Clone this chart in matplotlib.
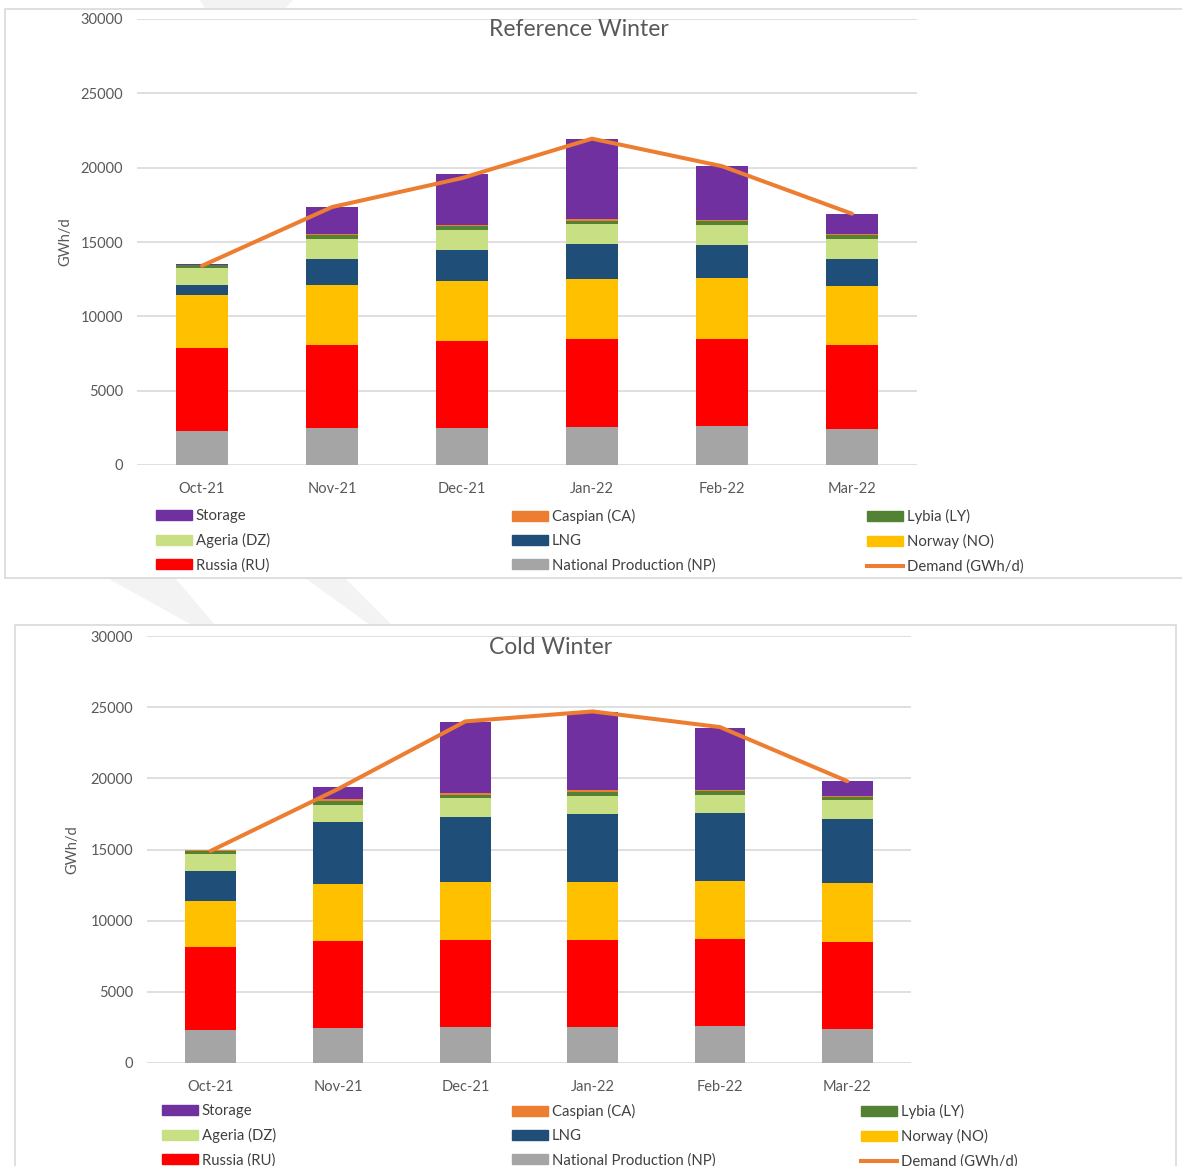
import numpy as np
import matplotlib
matplotlib.use('Agg')
import matplotlib.pyplot as plt
from matplotlib.patches import Rectangle, Polygon, Patch
from matplotlib.lines import Line2D

plt.rcParams['font.family'] = ['Lato', 'DejaVu Sans']

# months on the x axis
months = ['Oct-21', 'Nov-21', 'Dec-21', 'Jan-22', 'Feb-22', 'Mar-22']

# Reference winter (GWh/d)
np_ref = [2300, 2470, 2480, 2540, 2600, 2430]
ru_ref = [5600, 5600, 5880, 5930, 5870, 5640]
no_ref = [3550, 4050, 4020, 4040, 4110, 4000]
lng_ref = [650, 1770, 2090, 2380, 2250, 1820]
dz_ref = [1130, 1300, 1330, 1300, 1300, 1300]
ly_ref = [200, 270, 250, 250, 250, 250]
ca_ref = [20, 90, 110, 110, 90, 70]
st_ref = [80, 1780, 3440, 5390, 3640, 1390]
demand_ref = [13400, 17350, 19300, 21950, 20100, 16900]

# Cold winter (GWh/d)
np_cold = [2350, 2470, 2540, 2540, 2580, 2390]
ru_cold = [5820, 6080, 6080, 6080, 6100, 6080]
no_cold = [3240, 4010, 4090, 4130, 4130, 4160]
lng_cold = [2090, 4340, 4600, 4740, 4720, 4530]
dz_cold = [1200, 1240, 1310, 1290, 1290, 1310]
ly_cold = [210, 260, 240, 260, 260, 240]
ca_cold = [30, 120, 120, 120, 120, 70]
st_cold = [60, 870, 4950, 5490, 4340, 1030]
demand_cold = [14900, 19250, 24000, 24700, 23600, 19800]

series_names = ['National Production (NP)', 'Russia (RU)', 'Norway (NO)', 'LNG',
                'Ageria (DZ)', 'Lybia (LY)', 'Caspian (CA)', 'Storage']
colors = ['#A5A5A5', '#FF0000', '#FFC000', '#1F4E79',
          '#C9DF84', '#548235', '#ED7D31', '#7030A0']
demand_color = '#ED7D31'

W, H = 1182, 1166
fig = plt.figure(figsize=(W / 100, H / 100), dpi=100)


def fx(px):
    return px / W


def fy(py):
    return 1 - py / H


# faint watermark swooshes behind the panels
for pts in [[(200, 0), (293, 0), (285, 9), (205, 9)],
            [(107, 578), (175, 578), (215, 625), (192, 625)],
            [(305, 578), (345, 578), (392, 625), (370, 625)]]:
    fig.patches.append(Polygon([(fx(x), fy(y)) for x, y in pts], closed=True,
                               transform=fig.transFigure, facecolor='#F3F3F3',
                               edgecolor='none', zorder=0))

# panel borders
fig.patches.append(Rectangle((fx(5), fy(578)), fx(1190) - fx(5), fy(9) - fy(578),
                             transform=fig.transFigure, facecolor='white',
                             edgecolor='#D9D9D9', lw=1.2, zorder=0.5))
fig.patches.append(Rectangle((fx(15), fy(1175)), fx(1176) - fx(15), fy(625) - fy(1175),
                             transform=fig.transFigure, facecolor='white',
                             edgecolor='#D9D9D9', lw=1.2, zorder=0.5))


def draw_panel(box, series, demand, title, title_x, title_y, ylab_x, leg_x, leg_y):
    left, right, top, bottom = box
    ax = fig.add_axes([fx(left), fy(bottom), fx(right) - fx(left), fy(top) - fy(bottom)])
    ax.set_zorder(2)
    ax.set_facecolor('none')
    x = np.arange(len(months))
    base = np.zeros(len(months))
    for vals, c, name in zip(series, colors, series_names):
        ax.bar(x, vals, width=0.4, bottom=base, color=c, label=name, zorder=3)
        base = base + np.array(vals)
    ax.plot(x, demand, color=demand_color, lw=2.9, solid_capstyle='round', zorder=4)

    ax.set_xlim(-0.5, len(months) - 0.5)
    ax.set_ylim(0, 30000)
    ax.set_yticks(range(0, 30001, 5000))
    ax.set_xticks(x)
    ax.set_xticklabels(months)
    ax.grid(axis='y', color='#D9D9D9', lw=1.2, zorder=0)
    for s in ax.spines.values():
        s.set_visible(False)
    ax.tick_params(axis='both', length=0, colors='#595959', labelsize=10.5)
    ax.tick_params(axis='x', pad=12)
    ax.tick_params(axis='y', pad=10)

    fig.text(fx(title_x), fy(title_y), title, ha='center', va='center',
             fontsize=16.5, color='#595959', zorder=3)
    fig.text(fx(ylab_x), fy((top + bottom) / 2), 'GWh/d', rotation=90,
             ha='center', va='center', fontsize=10.5, color='#595959', zorder=3)

    # legend: three columns, filled row by row as in the original
    patches = [Patch(color=c) for c in colors]
    demand_handle = Line2D([0], [0], color=demand_color, lw=2.9)
    columns = [
        [(patches[7], 'Storage'), (patches[4], 'Ageria (DZ)'), (patches[1], 'Russia (RU)')],
        [(patches[6], 'Caspian (CA)'), (patches[3], 'LNG'), (patches[0], 'National Production (NP)')],
        [(patches[5], 'Lybia (LY)'), (patches[2], 'Norway (NO)'), (demand_handle, 'Demand (GWh/d)')],
    ]
    for cx, col in zip(leg_x, columns):
        leg = fig.legend([h for h, _ in col], [t for _, t in col], loc='upper left',
                         bbox_to_anchor=(fx(cx), fy(leg_y)), frameon=False,
                         fontsize=10.7, labelcolor='#404040', handlelength=2.4,
                         handleheight=0.65, handletextpad=0.28, labelspacing=0.68,
                         borderpad=0, borderaxespad=0)
        leg.set_zorder(3)
    return ax


draw_panel((137, 917, 19, 465),
           [np_ref, ru_ref, no_ref, lng_ref, dz_ref, ly_ref, ca_ref, st_ref],
           demand_ref, 'Reference Winter', 579, 29, 65, [156, 512, 867], 509)

draw_panel((147, 911, 636, 1063),
           [np_cold, ru_cold, no_cold, lng_cold, dz_cold, ly_cold, ca_cold, st_cold],
           demand_cold, 'Cold Winter', 551, 647, 72, [162, 512, 861], 1104)

fig.savefig('out.png', dpi=100)
